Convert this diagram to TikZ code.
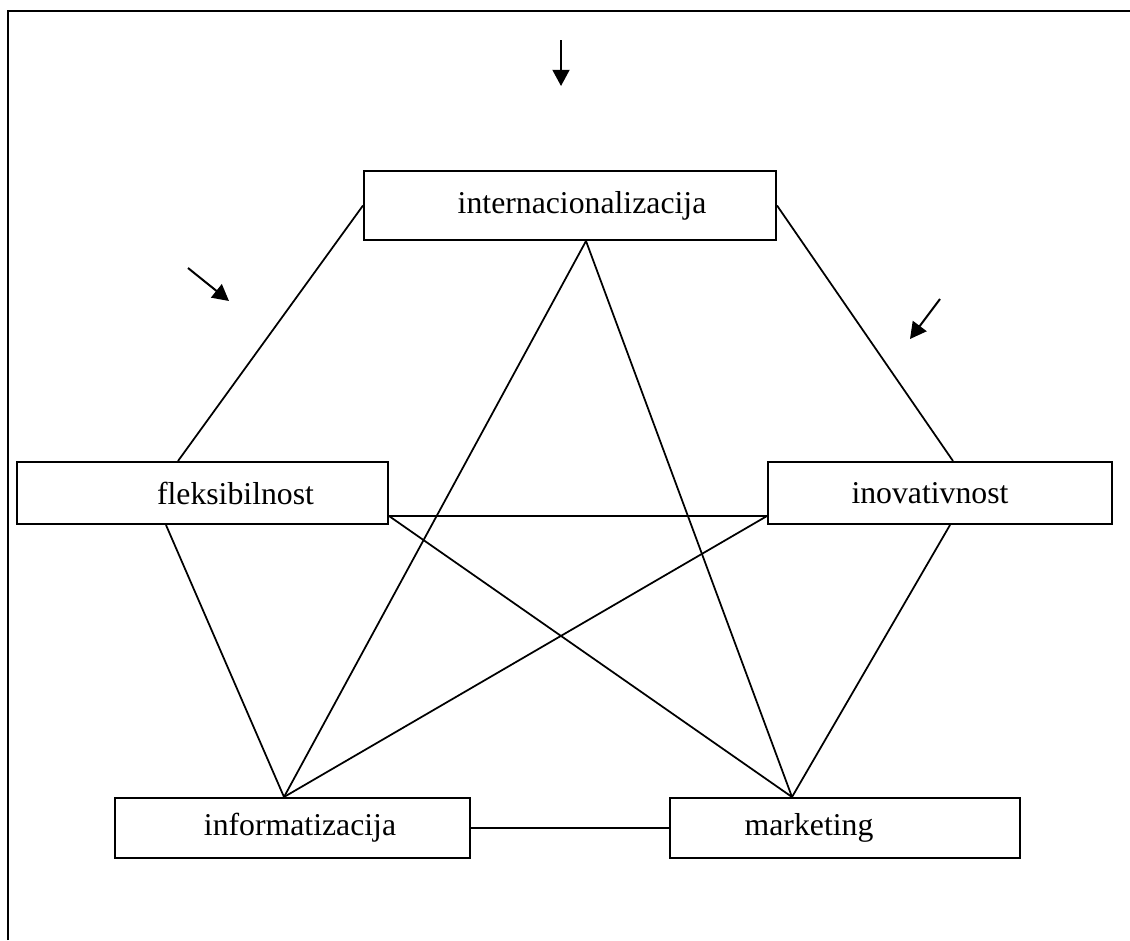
\documentclass[tikz,border=0pt]{standalone}
\usepackage{fontspec}
\setmainfont{Liberation Serif}
\usetikzlibrary{arrows.meta}
\tikzset{
    okvir/.style = {draw, line width = 0.8pt, inner sep = 0pt},
    veza/.style = {line width = 0.7pt},
    strelica/.style = {line width = 0.8pt, -{Triangle[length = 6.5pt, width = 6.8pt]}}
}
\begin{document}
\begin{tikzpicture}[x = 0.4pt, y = -0.4pt, font = \fontsize{12.7}{15}\selectfont]
                \useasboundingbox (0, 0) rectangle (1130, 940);
                % okvir stranice
                \draw[line width = 1pt] (8, 940) -- (8, 11) -- (1130, 11);
                % pet podrucja
                \node[okvir, minimum width = 164.8pt, minimum height = 27.6pt, label = {[xshift = 4.8pt]center:internacionalizacija}] (intern) at (570, 205.5) {};
                \node[okvir, minimum width = 148.4pt, minimum height = 24.8pt, label = {[xshift = 13.2pt]center:fleksibilnost}] (fleks) at (202.5, 493) {};
                \node[okvir, minimum width = 137.6pt, minimum height = 24.8pt, label = {[xshift = -4pt]center:inovativnost}] (inov) at (940, 493) {};
                \node[okvir, minimum width = 142pt, minimum height = 24pt, label = {[xshift = 3pt]center:informatizacija}] (inform) at (292.5, 828) {};
                \node[okvir, minimum width = 140pt, minimum height = 24pt, label = {[xshift = -14.4pt]center:marketing}] (mark) at (845, 828) {};
                % tocke spajanja
                \coordinate (fleksGore) at ([xshift = -9.8pt]fleks.north);
                \coordinate (fleksDolje) at ([xshift = -14.6pt]fleks.south);
                \coordinate (fleksDesno) at ([yshift = -9.2pt]fleks.east);
                \coordinate (inovGore) at ([xshift = 5.2pt]inov.north);
                \coordinate (inovDolje) at ([xshift = 4pt]inov.south);
                \coordinate (inovLijevo) at ([yshift = -9.2pt]inov.west);
                \coordinate (internDolje) at ([xshift = 6.4pt]intern.south);
                \coordinate (informGore) at ([xshift = -3.4pt]inform.north);
                \coordinate (markGore) at ([xshift = -21.2pt]mark.north);
                % veze
                \draw[veza] (intern.west) -- (fleksGore);
                \draw[veza] (intern.east) -- (inovGore);
                \draw[veza] (internDolje) -- (informGore);
                \draw[veza] (internDolje) -- (markGore);
                \draw[veza] (fleksDesno) -- (inovLijevo);
                \draw[veza] (fleksDesno) -- (markGore);
                \draw[veza] (inovLijevo) -- (informGore);
                \draw[veza] (fleksDolje) -- (informGore);
                \draw[veza] (inovDolje) -- (markGore);
                \draw[veza] (inform.east) -- (mark.west);
                % strelice
                \coordinate (gorePocetak) at (561, 40);
                \coordinate (goreKraj) at (561, 86);
                \coordinate (lijevoPocetak) at (188, 268);
                \coordinate (lijevoKraj) at (229, 301);
                \coordinate (desnoPocetak) at (940, 299);
                \coordinate (desnoKraj) at (910, 339);
                \draw[strelica] (gorePocetak) -- (goreKraj);
                \draw[strelica] (lijevoPocetak) -- (lijevoKraj);
                \draw[strelica] (desnoPocetak) -- (desnoKraj);
            \end{tikzpicture}
\end{document}
